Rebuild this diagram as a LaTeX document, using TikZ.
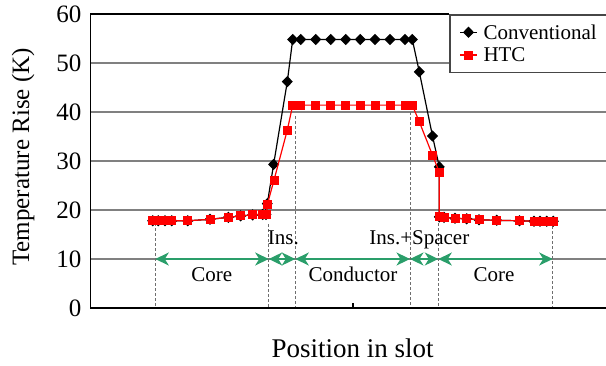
\documentclass[tikz,border=0pt]{standalone}
\usepackage{fontspec}
\setmainfont{Liberation Serif}
\usetikzlibrary{arrows.meta,plotmarks}
\definecolor{gridgray}{RGB}{128,128,128}
\definecolor{guidegray}{RGB}{110,110,110}
\definecolor{legendgray}{RGB}{70,70,70}
\definecolor{spangreen}{RGB}{42,158,106}
\tikzset{
  gridline/.style={gridgray, line width=1.2pt},
  axisline/.style={black, line width=1.2pt},
  guide/.style={guidegray, line width=0.7pt, dash pattern=on 3pt off 2pt},
  span/.style={spangreen, line width=1.6pt,
    {Stealth[length=13.5pt,width=13pt,inset=4pt]}-{Stealth[length=13.5pt,width=13pt,inset=4pt]}},
  ticklabel/.style={anchor=east, font=\fontsize{25}{25}\selectfont, inner sep=0pt},
  regionlabel/.style={anchor=base, font=\fontsize{21}{21}\selectfont, inner sep=0pt},
  convseries/.style={black, line width=1.2pt, mark=diamond*, mark size=4.8pt,
    mark options={solid, fill=black, xscale=1.3}},
  htcseries/.style={red, line width=1.2pt, mark=square*, mark size=3.9pt,
    mark options={solid, fill=red}},
}
\begin{document}
\begin{tikzpicture}[x=1pt, y=-1pt]
\useasboundingbox (0,0) rectangle (606,365);

% horizontal grid
\foreach \gy in {63,112,161,210,259}
  \draw[gridline] (90.7,\gy) -- (606,\gy);

% region boundaries
\coordinate (b0) at (155.3,259);
\coordinate (b1) at (268.7,259);
\coordinate (b2) at (295.3,259);
\coordinate (b3) at (410,259);
\coordinate (b4) at (438.3,259);
\coordinate (b5) at (552.7,259);
\draw[guide] (155.3,223) -- (155.3,308);
\draw[guide] (268.7,224) -- (268.7,308);
\draw[guide] (295.3,116) -- (295.3,308);
\draw[guide] (410,112) -- (410,308);
\draw[guide] (438.3,223) -- (438.3,308);
\draw[guide] (552.7,226) -- (552.7,308);

% region spans
\draw[span] (b0) -- (b1);
\draw[span] (b1) -- (b2);
\draw[span] (b2) -- (b3);
\draw[span] (b3) -- (b4);
\draw[span] (b4) -- (b5);

% axes and frame
\draw[axisline] (606,308) -- (90.7,308) -- (90.7,14) -- (449,14);
\draw[axisline] (353,308) -- (353,302.5);

% y tick labels
\node[ticklabel] (t0) at (81.5,308) {0};
\node[ticklabel] (t10) at (81.5,259) {10};
\node[ticklabel] (t20) at (81.5,210) {20};
\node[ticklabel] (t30) at (81.5,161) {30};
\node[ticklabel] (t40) at (81.5,112) {40};
\node[ticklabel] (t50) at (81.5,63) {50};
\node[ticklabel] (t60) at (81.5,14) {60};

% axis titles
\node[font=\fontsize{25}{25}\selectfont, rotate=90] (ytitle) at (23,157) {Temperature Rise (K)};
\node[font=\fontsize{27}{27}\selectfont, anchor=base, inner sep=0pt] (xtitle) at (352.7,357) {Position in slot};

% data series (x in px, y in K)
\begin{scope}[x=1pt, y=4.9pt, shift={(0pt,-308pt)}]
\draw[convseries] plot coordinates {
  (152.7,17.8) (158.3,17.8) (165,17.8) (171.7,17.8) (187.7,17.8) (210,18.1)
  (228.3,18.5) (240.7,18.8) (252.7,19.0) (262.7,19.1) (266,19.1) (267.3,21.3)
  (273.6,29.3) (287.3,46.2) (292.7,54.8) (300.7,54.8) (315.7,54.8) (330.7,54.8)
  (345.7,54.8) (360.3,54.8) (375,54.8) (390,54.8) (405,54.8) (412.3,54.8)
  (419.3,48.2) (432.5,35.1) (439.3,28.8) (439.3,18.6) (444,18.5) (455,18.3)
  (466.7,18.2) (479,18.0) (496.7,17.9) (519.5,17.8) (534,17.7) (540,17.7)
  (546.7,17.7) (553.3,17.7)};
\draw[htcseries] plot coordinates {
  (152.7,17.8) (158.3,17.8) (165,17.8) (171.7,17.8) (187.7,17.8) (210,18.1)
  (228.3,18.5) (240.7,18.8) (252.7,19.0) (262.7,19.1) (266,19.1) (267.3,21.1)
  (274,26.1) (287.3,36.3) (292.7,41.4) (300.7,41.4) (315.7,41.4) (330.7,41.4)
  (345.7,41.4) (360.3,41.4) (375,41.4) (390,41.4) (405,41.4) (412.3,41.4)
  (419.3,38.0) (432.7,31.1) (439.3,27.7) (439.3,18.6) (444,18.5) (455,18.3)
  (466.7,18.2) (479,18.0) (496.7,17.9) (519.5,17.8) (534,17.7) (540,17.7)
  (546.7,17.7) (553.3,17.7)};
\end{scope}

% region labels
\node[regionlabel] (core1) at (211.7,281) {Core};
\node[regionlabel] (cond) at (353,281) {Conductor};
\node[regionlabel] (core2) at (494,281) {Core};
\node[regionlabel] (ins) at (283.3,244) {Ins.};
\node[regionlabel] (inssp) at (419.3,244) {Ins.+Spacer};

% legend
\node[draw=legendgray, line width=1.5pt, fill=white, anchor=north west,
      minimum width=156.5pt, minimum height=57.5pt, inner sep=0pt] (legend) at (449.2,14) {};
\coordinate (la1) at (460,32.3);
\coordinate (lb1) at (477,32.3);
\coordinate (la2) at (460,55);
\coordinate (lb2) at (477,55);
\draw[black, line width=1.2pt] (la1) -- (lb1);
\draw[black, line width=1.2pt, mark=diamond*, mark size=4.8pt, mark options={fill=black, xscale=1.3}]
  plot coordinates {(468.5,32.3)};
\draw[red, line width=1.2pt] (la2) -- (lb2);
\draw[red, mark=square*, mark size=3.9pt, mark options={fill=red}]
  plot coordinates {(468.5,55)};
\node[anchor=west, inner sep=0pt, font=\fontsize{21}{21}\selectfont] (lconv) at (483.3,32.3) {Conventional};
\node[anchor=west, inner sep=0pt, font=\fontsize{21}{21}\selectfont] (lhtc) at (483.3,55) {HTC};
\end{tikzpicture}
\end{document}
